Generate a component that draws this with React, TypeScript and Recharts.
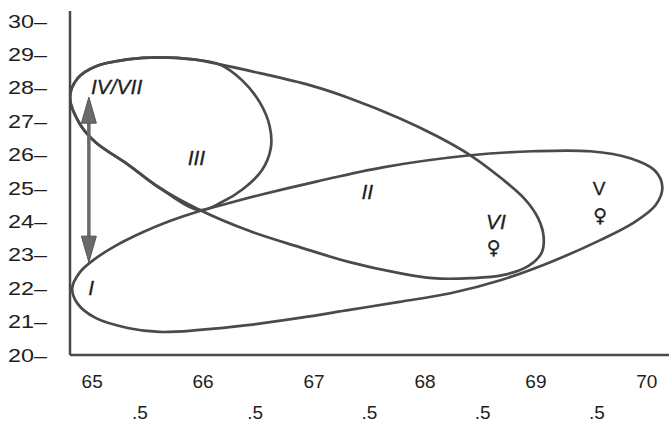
import React from 'react';
import { LineChart, Line, XAxis, YAxis, ReferenceLine, ReferenceDot } from 'recharts';

// Outline of the big loop (IV/VII ... VI)
const loopBigX = [64.80, 64.87, 65.03, 65.32, 65.61, 65.91, 66.15, 66.51, 66.96, 67.32, 67.77, 68.11, 68.41, 68.70, 68.90, 69.02, 69.07, 69.05, 68.93, 68.70, 68.41, 68.07, 67.77, 67.32, 66.87, 66.42, 65.97, 65.61, 65.32, 65.03, 64.89];
const loopBigY = [27.72, 28.29, 28.64, 28.85, 28.91, 28.85, 28.70, 28.44, 28.08, 27.69, 27.09, 26.55, 25.98, 25.26, 24.67, 24.10, 23.53, 23.05, 22.66, 22.39, 22.30, 22.30, 22.45, 22.78, 23.23, 23.71, 24.34, 25.00, 25.71, 26.37, 26.91];

// Outline of the small loop (III)
const loopSmallX = [64.80, 64.87, 65.03, 65.32, 65.61, 65.91, 66.15, 66.35, 66.51, 66.60, 66.61, 66.53, 66.36, 66.17, 65.97, 65.61, 65.32, 65.03, 64.89];
const loopSmallY = [27.72, 28.29, 28.64, 28.85, 28.91, 28.85, 28.70, 28.23, 27.57, 26.85, 26.19, 25.53, 24.97, 24.58, 24.34, 25.00, 25.71, 26.37, 26.91];

// Outline of the lower loop (I ... V)
const loopLowX = [64.82, 64.89, 65.01, 65.19, 65.46, 65.70, 65.97, 66.27, 66.51, 67.03, 67.62, 68.41, 68.97, 69.49, 69.85, 70.07, 70.14, 70.08, 69.89, 69.58, 69.13, 68.68, 68.23, 67.77, 67.32, 66.87, 66.42, 65.97, 65.61, 65.32, 65.03, 64.87];
const loopLowY = [22.00, 22.48, 22.84, 23.23, 23.68, 24.01, 24.31, 24.58, 24.79, 25.20, 25.62, 25.98, 26.10, 26.10, 25.89, 25.53, 25.03, 24.49, 23.98, 23.44, 22.78, 22.24, 21.85, 21.59, 21.35, 21.11, 20.90, 20.75, 20.69, 20.81, 21.11, 21.53];

// Axis ticks
const yTicks = [20, 21, 22, 23, 24, 25, 26, 27, 28, 29, 30];
const xMainTicks = [65, 66, 67, 68, 69, 70];
const xHalfTicks = [65.43, 66.47, 67.5, 68.52, 69.55];
const xMainLabels = ['65', '66', '67', '68', '69', '70'];
const xHalfLabel = '.5';

// Text labels inside the plot
const labelText = ['IV/VII', 'III', 'II', 'VI', '\u2640', 'V', '\u2640', 'I'];
const labelX = [65.22, 65.94, 67.48, 68.64, 68.62, 69.57, 69.58, 64.99];
const labelY = [28.05, 25.92, 24.91, 24.01, 23.23, 25.0, 24.19, 22.03];
const labelItalic = [true, true, true, true, false, false, false, true];

// Double-headed arrow
const arrowX = 64.97;
const arrowY = [22.78, 27.72];

const toPts = (xs: number[], ys: number[]) => xs.map((x, i) => ({ x, y: ys[i] }));

// closed centripetal Catmull-Rom curve
const closedCatmull = (alpha: number) => (context: any) => {
  let pts: number[][] = [];
  return {
    areaStart() {},
    areaEnd() {},
    lineStart() {
      pts = [];
    },
    lineEnd() {
      const n = pts.length;
      if (!n) return;
      const eps = 1e-12;
      context.moveTo(pts[0][0], pts[0][1]);
      for (let i = 0; i < n; i++) {
        const [x0, y0] = pts[(i - 1 + n) % n];
        const [x1, y1] = pts[i];
        const [x2, y2] = pts[(i + 1) % n];
        const [x3, y3] = pts[(i + 2) % n];
        const l01_2a = Math.pow((x1 - x0) ** 2 + (y1 - y0) ** 2, alpha);
        const l12_2a = Math.pow((x2 - x1) ** 2 + (y2 - y1) ** 2, alpha);
        const l23_2a = Math.pow((x3 - x2) ** 2 + (y3 - y2) ** 2, alpha);
        const l01_a = Math.sqrt(l01_2a);
        const l12_a = Math.sqrt(l12_2a);
        const l23_a = Math.sqrt(l23_2a);
        let cx1 = x1, cy1 = y1, cx2 = x2, cy2 = y2;
        if (l01_a > eps) {
          const a = 2 * l01_2a + 3 * l01_a * l12_a + l12_2a;
          const nn = 3 * l01_a * (l01_a + l12_a);
          cx1 = (x1 * a - x0 * l12_2a + x2 * l01_2a) / nn;
          cy1 = (y1 * a - y0 * l12_2a + y2 * l01_2a) / nn;
        }
        if (l23_a > eps) {
          const b = 2 * l23_2a + 3 * l23_a * l12_a + l12_2a;
          const m = 3 * l23_a * (l23_a + l12_a);
          cx2 = (x2 * b + x1 * l23_2a - x3 * l12_2a) / m;
          cy2 = (y2 * b + y1 * l23_2a - y3 * l12_2a) / m;
        }
        context.bezierCurveTo(cx1, cy1, cx2, cy2, x2, y2);
      }
      context.closePath();
    },
    point(x: number, y: number) {
      pts.push([+x, +y]);
    },
  };
};

const curve = closedCatmull(0.5);
const STROKE = '#4a4a4a';
const TEXT = '#1e1e1e';
const FONT = '"Liberation Sans", Arial, Helvetica, sans-serif';

const YTick = (props: any) => {
  const { x, y, payload } = props;
  return (
    <text
      x={x - 23}
      y={y}
      textAnchor="end"
      dominantBaseline="central"
      fontSize={19}
      fontFamily={FONT}
      fill={TEXT}
      textLength={39}
      lengthAdjust="spacingAndGlyphs"
    >
      {`${payload.value}\u2013`}
    </text>
  );
};

const XTick = (props: any) => {
  const { x, y, payload } = props;
  const v = payload.value;
  const mi = xMainTicks.indexOf(v);
  if (mi >= 0) {
    return (
      <text x={x} y={y + 26} textAnchor="middle" dominantBaseline="central" fontSize={19} fontFamily={FONT} fill={TEXT}>
        {xMainLabels[mi]}
      </text>
    );
  }
  return (
    <text x={x} y={y + 57} textAnchor="middle" dominantBaseline="central" fontSize={19} fontFamily={FONT} fill={TEXT}>
      {xHalfLabel}
    </text>
  );
};

const Arrow = (props: any) => {
  const { x1, y1, x2, y2 } = props;
  const top = Math.min(y1, y2);
  const bot = Math.max(y1, y2);
  const cx = (x1 + x2) / 2;
  const hh = 26;
  const hw = 7.5;
  return (
    <g>
      <line x1={cx} y1={top + hh - 2} x2={cx} y2={bot - hh + 2} stroke="#6a6a6a" strokeWidth={3.5} />
      <polygon points={`${cx},${top} ${cx - hw},${top + hh} ${cx + hw},${top + hh}`} fill="#6a6a6a" stroke="#555" strokeWidth={1} />
      <polygon points={`${cx},${bot} ${cx - hw},${bot - hh} ${cx + hw},${bot - hh}`} fill="#6a6a6a" stroke="#555" strokeWidth={1} />
    </g>
  );
};

export default function App() {
  const xTicks = [...xMainTicks, ...xHalfTicks].sort((a, b) => a - b);
  return (
    <div style={{ position: 'absolute', left: 0, top: 0, width: 670, height: 436, background: '#fff' }}>
      <LineChart width={670} height={436} margin={{ top: 11, right: 1, bottom: 0, left: 0 }}>
        <XAxis
          type="number"
          dataKey="x"
          domain={[64.8, 70.2]}
          allowDataOverflow
          ticks={xTicks}
          interval={0}
          tick={<XTick />}
          tickLine={false}
          tickSize={0}
          tickMargin={0}
          height={81}
          axisLine={{ stroke: STROKE, strokeWidth: 2.5 }}
        />
        <YAxis
          type="number"
          dataKey="y"
          domain={[20, 30.3]}
          allowDataOverflow
          ticks={yTicks}
          interval={0}
          tick={<YTick />}
          tickLine={false}
          tickSize={0}
          tickMargin={0}
          width={70}
          axisLine={{ stroke: STROKE, strokeWidth: 2.5 }}
        />
        <Line data={toPts(loopLowX, loopLowY)} dataKey="y" type={curve as any} stroke={STROKE} strokeWidth={2.7} dot={false} activeDot={false} isAnimationActive={false} />
        <Line data={toPts(loopBigX, loopBigY)} dataKey="y" type={curve as any} stroke={STROKE} strokeWidth={2.7} dot={false} activeDot={false} isAnimationActive={false} />
        <Line data={toPts(loopSmallX, loopSmallY)} dataKey="y" type={curve as any} stroke={STROKE} strokeWidth={2.7} dot={false} activeDot={false} isAnimationActive={false} />
        <ReferenceLine
          segment={[
            { x: arrowX, y: arrowY[0] },
            { x: arrowX, y: arrowY[1] },
          ]}
          shape={(p: any) => <Arrow {...p} />}
        />
        {labelText.map((t, i) => (
          <ReferenceDot
            key={i}
            x={labelX[i]}
            y={labelY[i]}
            r={0}
            shape={(p: any) => (
              <text
                x={p.cx}
                y={p.cy}
                textAnchor="middle"
                dominantBaseline="central"
                fontSize={labelItalic[i] ? 21 : 19}
                fontStyle={labelItalic[i] ? 'italic' : 'normal'}
                fontFamily={t === '\u2640' ? '"DejaVu Sans", sans-serif' : FONT}
                fill={TEXT}
                stroke={TEXT}
                strokeWidth={0.3}
              >
                {t}
              </text>
            )}
          />
        ))}
      </LineChart>
    </div>
  );
}
